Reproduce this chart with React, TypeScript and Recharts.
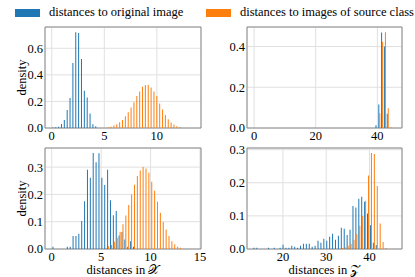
import React from "react"
import { BarChart, Bar, XAxis, YAxis, CartesianGrid, ReferenceArea } from "recharts"

const BLUE = "#1f77b4"
const ORANGE = "#ff7f0e"
const FONT = "'Liberation Serif', 'Times New Roman', serif"
const FS = 12.5

// top left: distances in X (small perturbation)
const TL_BINS = { start: 0.035, width: 0.272, count: 50 }
const TL_BLUE_FROM = 0
const TL_BLUE = [0.004, 0.006, 0.01, 0.03, 0.06, 0.135, 0.225, 0.49, 0.72, 0.715, 0.52, 0.28, 0.23, 0.11, 0.028, 0.013]
const TL_ORANGE_FROM = 19
const TL_ORANGE = [
  0.005, 0.01, 0.018, 0.028, 0.043, 0.06, 0.088, 0.119, 0.154, 0.194, 0.24, 0.275, 0.31,
  0.323, 0.323, 0.305, 0.275, 0.24, 0.184, 0.139, 0.098, 0.066, 0.041, 0.026, 0.013, 0.008,
]

// top right: distances in Z
const TR_BINS = { start: 0, width: 0.914, count: 50 }
const TR_BLUE_FROM = 43
const TR_BLUE = [0.013, 0.115, 0.469, 0.4, 0.07]
const TR_ORANGE_FROM = 44
const TR_ORANGE = [0.073, 0.423, 0.47, 0.097, 0.004]

// bottom left: distances in X
const BL_BINS = { start: 0.043, width: 0.291, count: 50 }
const BL_BLUE_FROM = 0
const BL_BLUE = [
  0.008, 0, 0, 0, 0, 0.008, 0.008, 0.048, 0.048, 0.056, 0.103, 0.175, 0.29, 0.261, 0.352,
  0.318, 0.351, 0.261, 0.234, 0.29, 0.179, 0.124, 0.139, 0.049, 0.062, 0.035, 0.008, 0.028, 0.008,
]
const BL_ORANGE_FROM = 18
const BL_ORANGE = [
  0.004, 0.01, 0.015, 0.027, 0.041, 0.063, 0.091, 0.123, 0.161, 0.2, 0.235, 0.267, 0.288, 0.3,
  0.295, 0.279, 0.246, 0.213, 0.173, 0.133, 0.099, 0.071, 0.048, 0.028, 0.017, 0.008, 0.005,
]

// bottom right: distances in Z
const BR_BINS = { start: 13.11, width: 0.673, count: 50 }
const BR_BLUE_FROM = 0
const BR_BLUE = [
  0.004, 0.004, 0, 0, 0, 0.004, 0, 0.004, 0, 0.004, 0.013, 0.004, 0.004, 0.01, 0.007, 0.004,
  0.01, 0.016, 0.016, 0.016, 0.007, 0.01, 0.025, 0.019, 0.031, 0.025, 0.037, 0.046, 0.028, 0.04,
  0.064, 0.061, 0.042, 0.058, 0.13, 0.125, 0.152, 0.158, 0.143, 0.107, 0.072, 0.019, 0.012,
]
const BR_ORANGE_FROM = 30
const BR_ORANGE = [0.003, 0.005, 0.01, 0.016, 0.028, 0.045, 0.07, 0.1, 0.146, 0.222, 0.29, 0.287, 0.19, 0.077, 0.021, 0.003]

const LEGEND = ["distances to original image", "distances to images of source class"]

type Bins = { start: number; width: number; count: number }

function buildRows(bins: Bins, blueFrom: number, blue: number[], orangeFrom: number, orange: number[]) {
  const rows = []
  for (let i = 0; i < bins.count; i++) {
    rows.push({
      x: bins.start + bins.width * (i + 0.5),
      a: blue[i - blueFrom] ?? 0,
      b: orange[i - orangeFrom] ?? 0,
    })
  }
  return rows
}

const tickStyle = { fill: "#000", fontSize: FS, fontFamily: FONT }

interface PanelProps {
  left: number
  top: number
  width: number
  height: number
  margin: { top: number; right: number; bottom: number; left: number }
  yAxisWidth: number
  xAxisHeight: number
  data: { x: number; a: number; b: number }[]
  xDomain: [number, number]
  xTicks: number[]
  yDomain: [number, number]
  yTicks: number[]
  xLabel?: string
  yLabel?: string
}

function Panel(p: PanelProps) {
  return (
    <div style={{ position: "absolute", left: p.left, top: p.top }}>
      <BarChart
        width={p.width}
        height={p.height}
        data={p.data}
        margin={p.margin}
        barCategoryGap="10%"
        barGap={0}
      >
        <CartesianGrid stroke="#e0e0e0" />
        <XAxis
          type="number"
          dataKey="x"
          domain={p.xDomain}
          ticks={p.xTicks}
          allowDataOverflow
          interval={0}
          tickLine={false}
          axisLine={false}
          tickSize={0}
          tickMargin={3}
          height={p.xAxisHeight}
          tick={tickStyle}
          label={
            p.xLabel
              ? { value: p.xLabel, position: "center", dy: 7, fill: "#000", fontSize: FS, fontFamily: FONT }
              : undefined
          }
        />
        <YAxis
          type="number"
          domain={p.yDomain}
          ticks={p.yTicks}
          allowDataOverflow
          interval={0}
          tickLine={false}
          axisLine={false}
          tickSize={0}
          tickMargin={2}
          width={p.yAxisWidth}
          tick={tickStyle}
          tickFormatter={(v: number) => v.toFixed(1)}
          label={
            p.yLabel
              ? { value: p.yLabel, angle: -90, position: "center", dx: -1, fill: "#000", fontSize: FS, fontFamily: FONT }
              : undefined
          }
        />
        <Bar dataKey="a" fill={BLUE} isAnimationActive={false} />
        <Bar dataKey="b" fill={ORANGE} isAnimationActive={false} />
        <ReferenceArea
          x1={p.xDomain[0]}
          x2={p.xDomain[1]}
          y1={p.yDomain[0]}
          y2={p.yDomain[1]}
          fill="none"
          stroke="#8a8a8a"
          strokeWidth={1}
          ifOverflow="visible"
        />
      </BarChart>
    </div>
  )
}

export default function App() {
  return (
    <div style={{ position: "absolute", left: 0, top: 0, width: 415, height: 277, background: "#fff", fontFamily: FONT }}>
      <style>{`.recharts-text { font-family: 'Liberation Serif', 'Times New Roman', serif; }`}</style>
      <div style={{ position: "absolute", left: 15, top: 4, display: "flex", alignItems: "center", fontSize: FS, height: 17 }}>
        <span style={{ display: "inline-block", width: 25, height: 8, background: BLUE, marginRight: 9 }} />
        <span>{LEGEND[0]}</span>
      </div>
      <div style={{ position: "absolute", left: 206, top: 4, display: "flex", alignItems: "center", fontSize: FS, height: 17 }}>
        <span style={{ display: "inline-block", width: 25, height: 8, background: ORANGE, marginRight: 9 }} />
        <span>{LEGEND[1]}</span>
      </div>

      <Panel
        left={0}
        top={0}
        width={210}
        height={148}
        margin={{ top: 27, right: 9, bottom: 0, left: 0 }}
        yAxisWidth={45}
        xAxisHeight={20}
        data={buildRows(TL_BINS, TL_BLUE_FROM, TL_BLUE, TL_ORANGE_FROM, TL_ORANGE)}
        xDomain={[-0.64, 14.2]}
        xTicks={[0, 5, 10]}
        yDomain={[0, 0.76]}
        yTicks={[0, 0.2, 0.4, 0.6]}
        yLabel="density"
      />
      <Panel
        left={205}
        top={0}
        width={210}
        height={148}
        margin={{ top: 27, right: 13, bottom: 0, left: 0 }}
        yAxisWidth={42}
        xAxisHeight={20}
        data={buildRows(TR_BINS, TR_BLUE_FROM, TR_BLUE, TR_ORANGE_FROM, TR_ORANGE)}
        xDomain={[-2.3, 48]}
        xTicks={[0, 20, 40]}
        yDomain={[0, 0.496]}
        yTicks={[0, 0.2, 0.4]}
      />
      <Panel
        left={0}
        top={121}
        width={210}
        height={156}
        margin={{ top: 27, right: 9, bottom: 0, left: 0 }}
        yAxisWidth={45}
        xAxisHeight={28}
        data={buildRows(BL_BINS, BL_BLUE_FROM, BL_BLUE, BL_ORANGE_FROM, BL_ORANGE)}
        xDomain={[-0.68, 15.1]}
        xTicks={[0, 5, 10, 15]}
        yDomain={[0, 0.37]}
        yTicks={[0, 0.1, 0.2, 0.3]}
        yLabel="density"
        xLabel="distances in 𝒳"
      />
      <Panel
        left={205}
        top={121}
        width={210}
        height={156}
        margin={{ top: 27, right: 13, bottom: 0, left: 0 }}
        yAxisWidth={42}
        xAxisHeight={28}
        data={buildRows(BR_BINS, BR_BLUE_FROM, BR_BLUE, BR_ORANGE_FROM, BR_ORANGE)}
        xDomain={[11.7, 47.5]}
        xTicks={[20, 30, 40]}
        yDomain={[0, 0.305]}
        yTicks={[0, 0.1, 0.2, 0.3]}
        xLabel="distances in 𝒵"
      />
    </div>
  )
}
